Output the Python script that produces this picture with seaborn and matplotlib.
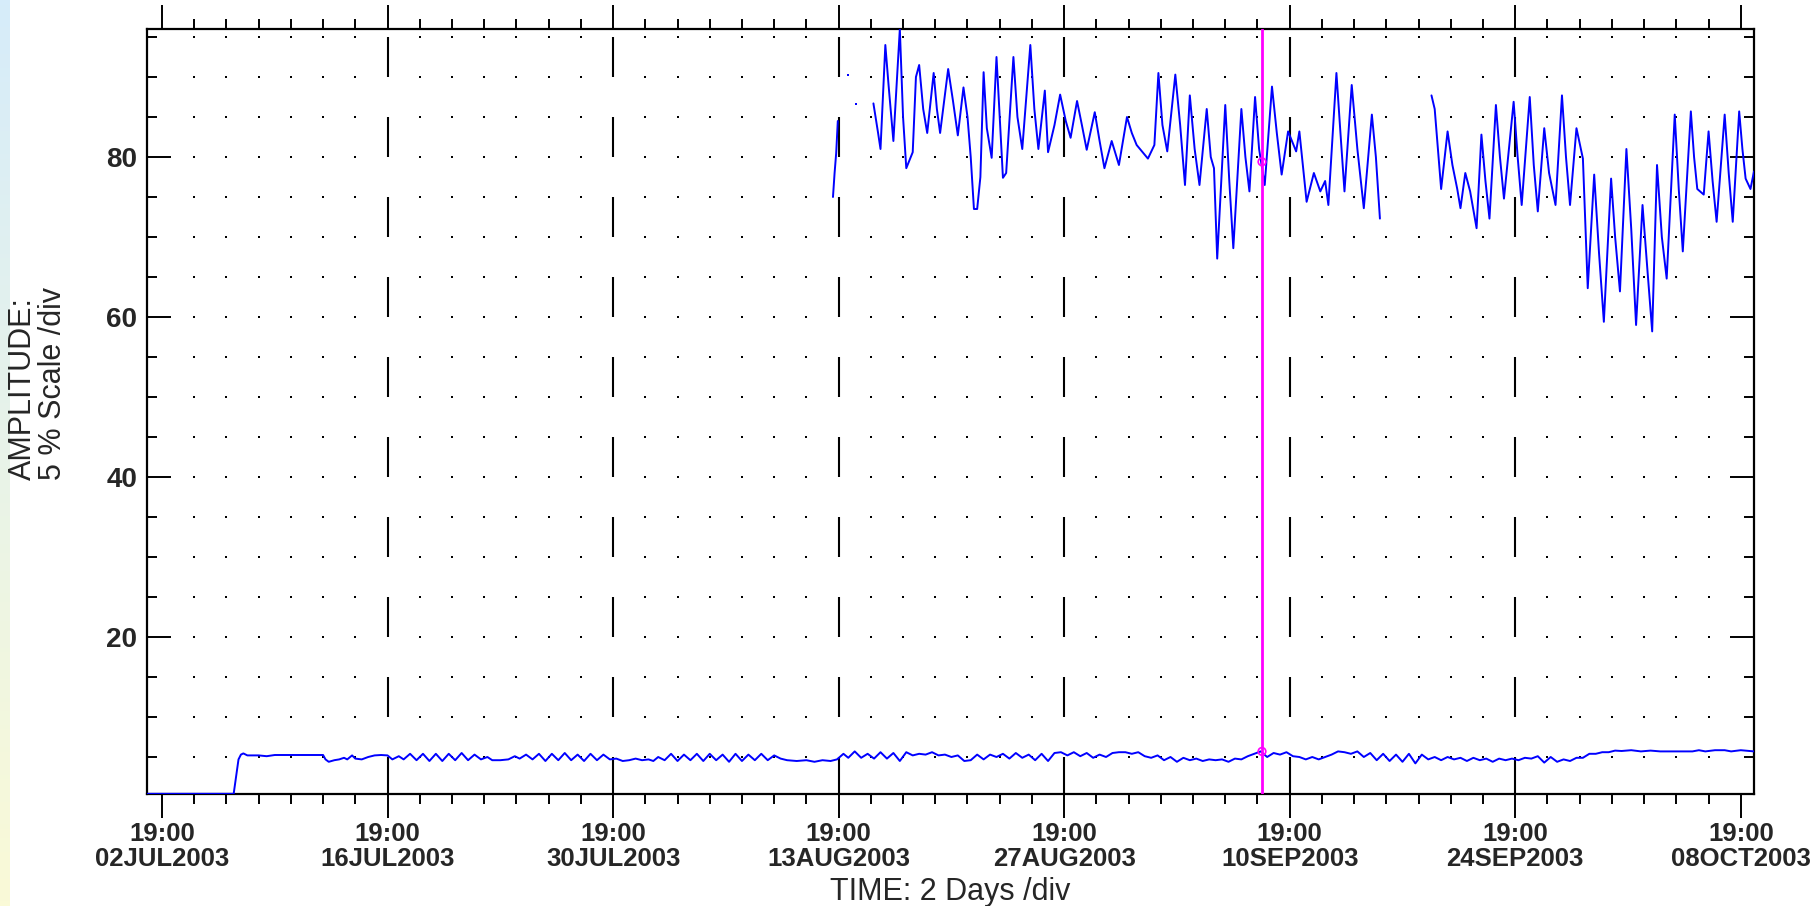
import numpy as np
import pandas as pd
import matplotlib
matplotlib.use("Agg")
import matplotlib.pyplot as plt
import seaborn as sns
from matplotlib.ticker import FixedLocator, MultipleLocator

# ---------------- data (x = days since 02JUL2003 19:00) ----------------
lower_day = [-0.93, 4.45, 4.6, 4.75, 4.9, 5.05, 5.3, 6.0, 6.5, 7.0, 8.0, 9.0, 10.0, 10.15, 10.35,
             10.7, 11.0, 11.3, 11.5, 11.8, 12.0, 12.4, 12.8, 13.2, 13.6, 14.0, 14.3, 14.7, 15.0,
             15.4, 15.8, 16.2, 16.6, 17.0, 17.4, 17.8, 18.2, 18.6, 19.0, 19.4, 19.8, 20.2, 20.5,
             21.0, 21.5, 21.9, 22.2, 22.6, 23.0, 23.4, 23.8, 24.2, 24.6, 25.0, 25.4, 25.8, 26.2,
             26.6, 27.0, 27.4, 27.8, 28.2, 28.6, 29.0, 29.4, 29.8, 30.2, 30.5, 30.8, 31.2, 31.6,
             32.0, 32.4, 32.8, 33.2, 33.6, 34.0, 34.4, 34.8, 35.2, 35.6, 36.0, 36.4, 36.8, 37.2,
             37.6, 38.0, 38.4, 38.8, 39.4, 40.0, 40.5, 41.0, 41.5, 41.9, 42.3, 42.6, 43.0, 43.4,
             43.8, 44.2, 44.6, 45.0, 45.4, 45.8, 46.2, 46.6, 47.0, 47.4, 47.8, 48.2, 48.6, 49.0,
             49.4, 49.8, 50.2, 50.6, 51.0, 51.4, 51.8, 52.2, 52.6, 53.0, 53.4, 53.8, 54.2, 54.6,
             55.0, 55.4, 55.8, 56.2, 56.6, 57.0, 57.4, 57.8, 58.2, 58.6, 59.0, 59.4, 59.8, 60.2,
             60.6, 61.0, 61.4, 61.8, 62.2, 62.6, 63.0, 63.4, 63.8, 64.2, 64.6, 65.0, 65.4, 65.8,
             66.2, 66.6, 67.0, 67.4, 67.8, 68.2, 68.6, 69.0, 69.4, 69.8, 70.2, 70.6, 71.0, 71.4,
             71.8, 72.2, 72.6, 73.0, 73.4, 73.8, 74.2, 74.6, 75.0, 75.4, 75.8, 76.2, 76.6, 77.0,
             77.4, 77.8, 78.2, 78.6, 79.0, 79.4, 79.8, 80.2, 80.6, 81.0, 81.4, 81.8, 82.2, 82.6,
             83.0, 83.4, 83.8, 84.2, 84.6, 85.0, 85.4, 85.8, 86.2, 86.6, 87.0, 87.4, 87.8, 88.2,
             88.6, 89.0, 89.4, 89.8, 90.2, 90.6, 91.2, 91.8, 92.4, 93.0, 94.0, 95.0, 95.4, 95.8,
             96.4, 97.0, 97.4, 98.0, 98.82]
lower_val = [0.4, 0.4, 2.6, 4.7, 5.3, 5.45, 5.2, 5.2, 5.1, 5.25, 5.25, 5.25, 5.25, 4.7, 4.4,
             4.6, 4.7, 4.9, 4.7, 5.2, 4.8, 4.7, 5.0, 5.2, 5.25, 5.2, 4.7, 5.1, 4.7,
             5.4, 4.6, 5.4, 4.5, 5.4, 4.5, 5.4, 4.6, 5.5, 4.6, 5.3, 4.7, 5.0, 4.6,
             4.6, 4.7, 5.1, 4.8, 5.3, 4.7, 5.4, 4.5, 5.4, 4.6, 5.5, 4.6, 5.3, 4.5,
             5.4, 4.6, 5.3, 4.7, 4.8, 4.5, 4.6, 4.8, 4.6, 4.7, 4.5, 5.0, 4.6, 5.4,
             4.5, 5.3, 4.6, 5.4, 4.5, 5.4, 4.6, 5.3, 4.4, 5.4, 4.5, 5.3, 4.6, 5.4,
             4.6, 5.2, 4.8, 4.6, 4.5, 4.6, 4.4, 4.6, 4.5, 4.7, 5.4, 4.9, 5.7, 4.9,
             5.4, 4.8, 5.6, 4.8, 5.5, 4.5, 5.6, 5.2, 5.4, 5.3, 5.6, 5.2, 5.3, 5.0,
             5.2, 4.5, 4.6, 5.3, 4.7, 5.3, 5.0, 5.4, 4.8, 5.5, 4.9, 5.3, 4.6, 5.4,
             4.5, 5.5, 5.6, 5.2, 5.6, 5.1, 5.5, 4.9, 5.3, 5.0, 5.5, 5.6, 5.6, 5.4,
             5.6, 5.1, 4.9, 5.2, 4.6, 5.0, 4.4, 4.9, 4.6, 4.8, 4.5, 4.7, 4.6, 4.7,
             4.4, 4.8, 4.7, 5.1, 5.4, 5.7, 5.0, 5.5, 5.3, 5.6, 5.1, 5.0, 4.7, 5.0,
             4.7, 5.0, 5.3, 5.7, 5.6, 5.4, 5.7, 5.0, 5.5, 4.6, 5.4, 4.5, 5.3, 4.4,
             5.4, 4.2, 5.3, 4.7, 5.0, 4.6, 5.0, 4.7, 4.9, 4.5, 4.9, 4.6, 4.8, 4.4,
             4.8, 4.6, 4.8, 4.6, 4.9, 4.8, 5.1, 4.3, 5.0, 4.4, 4.7, 4.5, 4.9, 4.9,
             5.4, 5.4, 5.6, 5.6, 5.8, 5.75, 5.85, 5.7, 5.8, 5.7, 5.7, 5.7, 5.85, 5.7,
             5.85, 5.85, 5.7, 5.85, 5.7]

# upper trace, three unbroken pieces
up0_day = [41.65, 41.75, 41.85, 41.95]
up0_val = [75.0, 78.0, 80.5, 84.5]

up1_day = [44.16, 44.45, 44.6, 44.9, 45.1, 45.4, 45.8, 46.0, 46.2, 46.6, 46.8, 47.0, 47.25,
           47.5, 47.9, 48.1, 48.3, 48.8, 49.1, 49.4, 49.75, 50.0, 50.2, 50.4, 50.6, 50.8, 51.0,
           51.2, 51.5, 51.8, 52.0, 52.2, 52.4, 52.85, 53.1, 53.4, 53.9, 54.15, 54.4, 54.8, 55.0,
           55.4, 55.75, 56.1, 56.4, 56.8, 57.1, 57.4, 57.9, 58.2, 58.5, 58.95, 59.4, 59.9, 60.2,
           60.5, 61.2, 61.6, 61.85, 62.1, 62.4, 62.9, 63.2, 63.5, 63.8, 64.1, 64.4, 64.85,
           65.1, 65.3, 65.5, 66.0, 66.25, 66.5, 67.0, 67.25, 67.5, 67.85, 68.1, 68.45, 68.9,
           69.2, 69.5, 69.9, 70.4, 70.6, 71.05, 71.5, 71.9, 72.2, 72.4, 72.9, 73.15, 73.4,
           73.85, 74.2, 74.6, 75.1, 75.35, 75.6]
up1_val = [86.7, 83.0, 81.0, 94.0, 89.0, 82.0, 96.0, 85.0, 78.6, 80.6, 90.0, 91.5, 86.0,
           83.0, 90.5, 86.0, 83.0, 91.0, 87.0, 82.7, 88.7, 85.0, 80.0, 73.5, 73.5, 77.5, 90.6,
           83.6, 79.9, 92.5, 85.0, 77.4, 78.0, 92.5, 85.0, 81.0, 94.0, 86.0, 81.0, 88.3, 80.6,
           84.0, 87.8, 84.5, 82.4, 87.0, 84.0, 80.9, 85.6, 82.0, 78.6, 82.0, 79.0, 85.0, 83.0,
           81.5, 79.8, 81.5, 90.5, 84.0, 80.7, 90.3, 84.0, 76.5, 87.7, 81.0, 76.5, 86.0,
           80.0, 78.6, 67.3, 86.5, 77.0, 68.6, 86.0, 80.0, 75.7, 87.5, 81.0, 76.5, 88.8,
           83.0, 77.8, 83.2, 80.7, 83.2, 74.4, 78.0, 75.7, 77.0, 74.0, 90.5, 83.0, 75.7,
           89.0, 81.0, 73.6, 85.3, 80.0, 72.3]

up2_day = [78.8, 79.0, 79.4, 79.8, 80.1, 80.4, 80.6, 80.9, 81.2, 81.6, 81.9, 82.15, 82.4, 82.8,
           83.05, 83.3, 83.9, 84.15, 84.4, 84.9, 85.15, 85.4, 85.8, 86.1, 86.5, 86.9, 87.15,
           87.4, 87.8, 88.2, 88.5, 88.9, 89.2, 89.5, 89.95, 90.2, 90.5, 90.9, 91.2, 91.5, 91.9,
           92.2, 92.5, 92.8, 93.1, 93.4, 93.9, 94.15, 94.4, 94.9, 95.1, 95.3, 95.7, 96.0, 96.25,
           96.5, 97.0, 97.25, 97.5, 97.9, 98.1, 98.3, 98.6, 98.82]
up2_val = [87.7, 86.0, 76.0, 83.2, 79.0, 76.0, 73.6, 78.0, 75.7, 71.1, 82.8, 77.0, 72.3, 86.5,
           80.0, 74.8, 86.9, 80.0, 74.0, 87.5, 79.0, 73.2, 83.6, 78.0, 74.0, 87.7, 80.0,
           74.0, 83.6, 79.8, 63.6, 77.8, 68.0, 59.4, 77.3, 70.0, 63.2, 81.0, 71.0, 59.0, 74.0,
           66.0, 58.2, 79.0, 70.0, 64.8, 85.3, 76.0, 68.2, 85.7, 80.0, 76.0, 75.3, 83.2, 77.0,
           71.9, 85.3, 78.0, 71.9, 85.7, 81.0, 77.3, 76.0, 78.2]

upper_dot_day = [42.6, 43.1]
upper_dot_val = [90.2, 86.6]

tick_days = [0, 14, 28, 42, 56, 70, 84, 98]
tick_times = ["19:00"] * 8
tick_dates = ["02JUL2003", "16JUL2003", "30JUL2003", "13AUG2003",
              "27AUG2003", "10SEP2003", "24SEP2003", "08OCT2003"]
ytick_major = [20, 40, 60, 80]

cursor_day = 68.28
cursor_vals = [79.4, 5.7]

# ---------------- figure ----------------
sns.set_style("white")
plt.rcParams["font.family"] = ["Liberation Sans", "DejaVu Sans"]

fig = plt.figure(figsize=(18.12, 9.06), dpi=100)
fig.patch.set_facecolor("white")

# left gradient strip
axg = fig.add_axes([0, 0, 10 / 1812, 1])
top_c = np.array([214, 236, 250]) / 255
bot_c = np.array([250, 250, 215]) / 255
t = np.linspace(0, 1, 200)[:, None, None]
grad = top_c[None, None, :] * (1 - t) + bot_c[None, None, :] * t
axg.imshow(grad, aspect="auto", extent=[0, 1, 0, 1])
axg.axis("off")

ax = fig.add_axes([147 / 1812, 1 - 794 / 906, (1754 - 147) / 1812, (794 - 29) / 906])
ax.set_facecolor("white")
xmin, xmax = -0.93, 98.82
ymin, ymax = 0.375, 96.0

# grid dots (not on the outer 19:00 ticks)
gx = [d for d in range(2, 97, 2) if d % 14 != 0]
gy = list(range(5, 100, 5))
GX, GY = np.meshgrid(gx, gy)
ax.scatter(GX.ravel(), GY.ravel(), s=2.2, c="black", marker="s", linewidths=0, zorder=1)

# dashed verticals at inner major ticks
for xd in tick_days[1:-1]:
    lows = list(range(0, 95, 10))
    ax.vlines([xd] * len(lows), lows, [l + 5 for l in lows], colors="black", lw=1.5, zorder=1)

# series
df_low = pd.DataFrame({"day": lower_day, "val": lower_val})
sns.lineplot(data=df_low, x="day", y="val", color="#0000ff", lw=1.4, sort=False,
             estimator=None, ax=ax, zorder=3)

pieces = [(up0_day, up0_val), (up1_day, up1_val), (up2_day, up2_val)]
df_up = pd.concat([pd.DataFrame({"day": d, "val": v, "seg": i})
                   for i, (d, v) in enumerate(pieces)], ignore_index=True)
sns.lineplot(data=df_up, x="day", y="val", units="seg", estimator=None, color="#0000ff",
             lw=1.4, sort=False, ax=ax, zorder=3, legend=False)
ax.scatter(upper_dot_day, upper_dot_val, s=4, c="#0000ff", marker="s", linewidths=0, zorder=3)

# cursor
ax.axvline(cursor_day, color="#ff00ff", lw=2, zorder=4)
ax.scatter([cursor_day] * 2, cursor_vals, s=30, facecolors="none", edgecolors="#ff00ff",
           linewidths=1.2, zorder=5)

ax.set_xlim(xmin, xmax)
ax.set_ylim(ymin, ymax)

ax.xaxis.set_major_locator(FixedLocator(tick_days))
ax.xaxis.set_minor_locator(MultipleLocator(2))
ax.set_xticklabels([f"{a}\n{b}" for a, b in zip(tick_times, tick_dates)],
                   fontsize=18.5, fontweight="bold", linespacing=1.05)
ax.yaxis.set_major_locator(FixedLocator(ytick_major))
ax.yaxis.set_minor_locator(MultipleLocator(5))
ax.set_yticklabels([str(v) for v in ytick_major], fontsize=20, fontweight="bold")

ax.tick_params(axis="x", which="both", direction="out", top=True, bottom=True,
               width=1.4, color="black")
ax.tick_params(axis="x", which="major", length=17, pad=3)
ax.tick_params(axis="x", which="minor", length=7)
ax.tick_params(axis="y", which="both", direction="in", left=True, right=True,
               width=1.4, color="black")
ax.tick_params(axis="y", which="major", length=17, pad=7)
ax.tick_params(axis="y", which="minor", length=7)

for s in ax.spines.values():
    s.set_visible(True)
    s.set_color("black")
    s.set_linewidth(1.6)

ax.set_xlabel("")
ax.set_ylabel("")

fig.text(950 / 1812, 1 - 892 / 906, "TIME: 2 Days /div", ha="center", va="center",
         fontsize=22)
fig.text(38 / 1812, 1 - 384 / 906, "AMPLITUDE:\n5 % Scale /div", ha="center", va="center",
         rotation=90, multialignment="left", linespacing=1.0, fontsize=22)

fig.savefig("out.png", dpi=100, facecolor="white")
